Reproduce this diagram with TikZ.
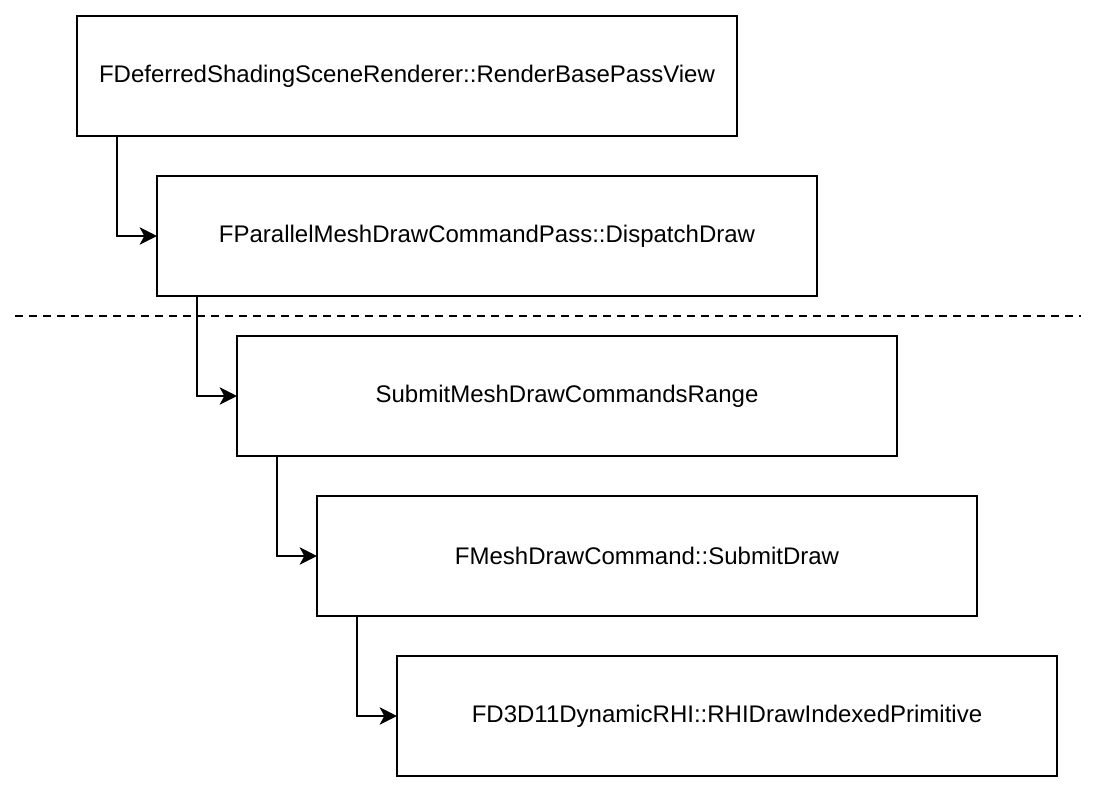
\documentclass[tikz,border=0pt]{standalone}
\usepackage{fontspec}
\setmainfont{Liberation Sans}
\usetikzlibrary{arrows.meta}
\begin{document}
\begin{tikzpicture}[x=0.75pt,y=-0.75pt,
  box/.style={draw, line width=1.5pt, minimum width=495pt, minimum height=90pt, inner sep=0pt, outer sep=0pt, font=\fontsize{18}{21}\selectfont},
  arr/.style={line width=1.5pt, -{Stealth[length=13pt,width=13pt,inset=3.5pt]}},
  sep/.style={line width=1.5pt, dash pattern=on 6pt off 4.5pt}]
\useasboundingbox (0,0) rectangle (1096,794);
\node[box] (b1) at (407,76) {FDeferredShadingSceneRenderer::RenderBasePassView};
\node[box] (b2) at (487,236) {FParallelMeshDrawCommandPass::DispatchDraw};
\node[box] (b3) at (567,396) {SubmitMeshDrawCommandsRange};
\node[box] (b4) at (647,556) {FMeshDrawCommand::SubmitDraw};
\node[box] (b5) at (727,716) {FD3D11DynamicRHI::RHIDrawIndexedPrimitive};
\coordinate (dl) at (15,316);
\coordinate (dr) at (1081,316);
\draw[sep] (dl) -- (dr);
\draw[arr] ([xshift=30pt]b1.south west) |- (b2.west);
\draw[arr] ([xshift=30pt]b2.south west) |- (b3.west);
\draw[arr] ([xshift=30pt]b3.south west) |- (b4.west);
\draw[arr] ([xshift=30pt]b4.south west) |- (b5.west);
\end{tikzpicture}
\end{document}
